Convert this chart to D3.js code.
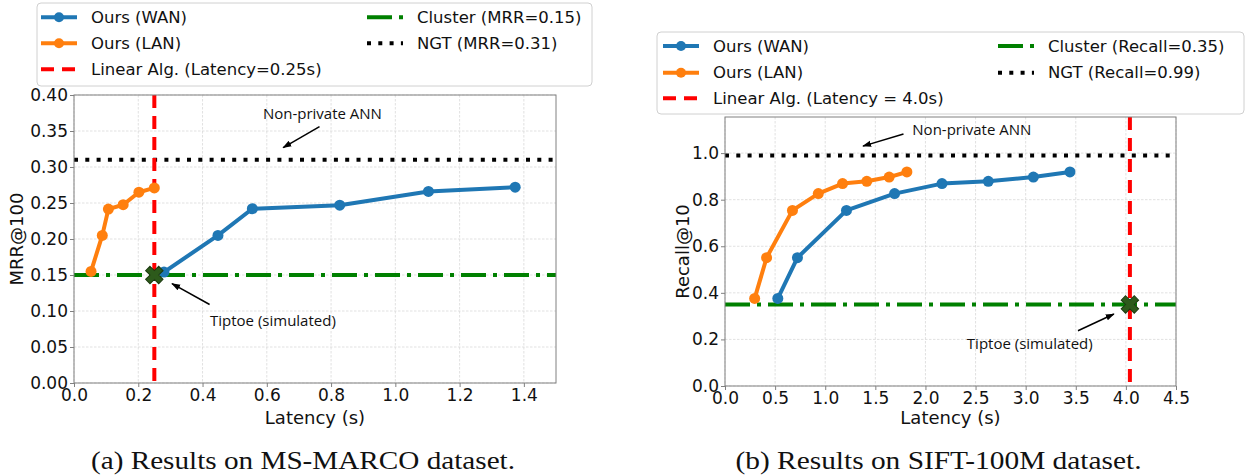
<!DOCTYPE html>
<html>
<head>
<meta charset="utf-8">
<script src="https://cdn.jsdelivr.net/npm/d3@7"></script>
<style>
  body { margin: 0; background: #fff; }
  svg { display: block; }
</style>
</head>
<body>
<script>
// (a) MS-MARCO
const marcoLatencyWAN = [0.28, 0.448, 0.555, 0.827, 1.103, 1.373];
const marcoMrrWAN = [0.154, 0.205, 0.242, 0.247, 0.266, 0.272];
const marcoLatencyLAN = [0.053, 0.088, 0.107, 0.153, 0.202, 0.25];
const marcoMrrLAN = [0.155, 0.205, 0.2415, 0.2476, 0.265, 0.271];
const marcoXTicks = [0.0, 0.2, 0.4, 0.6, 0.8, 1.0, 1.2, 1.4];
const marcoYTicks = [0.00, 0.05, 0.10, 0.15, 0.20, 0.25, 0.30, 0.35, 0.40];
const marcoCluster = 0.15, marcoNGT = 0.31, marcoLinear = 0.25;
const marcoTiptoe = [0.25, 0.15];
const marcoLegend = ["Ours (WAN)", "Ours (LAN)", "Linear Alg. (Latency=0.25s)", "Cluster (MRR=0.15)", "NGT (MRR=0.31)"];

// (b) SIFT-100M
const siftLatencyWAN = [0.527, 0.723, 1.212, 1.692, 2.165, 2.627, 3.077, 3.442];
const siftRecallWAN = [0.376, 0.551, 0.754, 0.826, 0.869, 0.879, 0.897, 0.919];
const siftLatencyLAN = [0.296, 0.415, 0.673, 0.931, 1.173, 1.415, 1.638, 1.815];
const siftRecallLAN = [0.376, 0.551, 0.754, 0.826, 0.869, 0.879, 0.897, 0.919];
const siftXTicks = [0.0, 0.5, 1.0, 1.5, 2.0, 2.5, 3.0, 3.5, 4.0, 4.5];
const siftYTicks = [0.0, 0.2, 0.4, 0.6, 0.8, 1.0];
const siftCluster = 0.35, siftNGT = 0.99, siftLinear = 4.04;
const siftTiptoe = [4.04, 0.35];
const siftLegend = ["Ours (WAN)", "Ours (LAN)", "Linear Alg. (Latency = 4.0s)", "Cluster (Recall=0.35)", "NGT (Recall=0.99)"];

const captions = ["(a) Results on MS-MARCO dataset.", "(b) Results on SIFT-100M dataset."];

const BLUE = "#1f77b4", ORANGE = "#ff7f0e", RED = "#ff0000", GREEN = "#008000";
const SANS = "'DejaVu Sans', sans-serif";
const NOTE = "'Open Sans', 'Noto Sans', sans-serif";

const svg = d3.select("body").append("svg")
    .attr("width", 1245)
    .attr("height", 475);

svg.append("defs").append("marker")
    .attr("id", "arrow")
    .attr("viewBox", "0 0 10 10")
    .attr("refX", 9).attr("refY", 5)
    .attr("markerWidth", 6).attr("markerHeight", 6)
    .attr("orient", "auto")
    .append("path")
    .attr("d", "M0,1.5 L10,5 L0,8.5 z")
    .attr("fill", "#000");

const panels = [
    {
        left: 74, right: 556, top: 95, bottom: 383,
        xDomain: [0, 1.5], yDomain: [0, 0.40],
        xTicks: marcoXTicks, yTicks: marcoYTicks, xFmt: ".1f", yFmt: ".2f",
        ylabel: "MRR@100", ylabelX: 16,
        wan: [marcoLatencyWAN, marcoMrrWAN], lan: [marcoLatencyLAN, marcoMrrLAN],
        cluster: marcoCluster, ngt: marcoNGT, linear: marcoLinear, tiptoe: marcoTiptoe,
        notes: [
            { text: "Non-private ANN", tx: 0.773, ty: 0.375, from: [0.764, 0.356], to: [0.651, 0.327] },
            { text: "Tiptoe (simulated)", tx: 0.619, ty: 0.088, from: [0.422, 0.109], to: [0.305, 0.138] }
        ],
        legend: marcoLegend,
        legendBox: { x: 37, y: 3, w: 555, h: 83 },
        legendRows: [17.3, 43.3, 69.3], legendCols: [41, 367],
        caption: captions[0], captionW: 424
    },
    {
        left: 725, right: 1176, top: 117, bottom: 386,
        xDomain: [0, 4.5], yDomain: [0, 1.155],
        xTicks: siftXTicks, yTicks: siftYTicks, xFmt: ".1f", yFmt: ".1f",
        ylabel: "Recall@10", ylabelX: 682,
        wan: [siftLatencyWAN, siftRecallWAN], lan: [siftLatencyLAN, siftRecallLAN],
        cluster: siftCluster, ngt: siftNGT, linear: siftLinear, tiptoe: siftTiptoe,
        notes: [
            { text: "Non-private ANN", tx: 2.463, ty: 1.102, from: [1.781, 1.082], to: [1.377, 1.030] },
            { text: "Tiptoe (simulated)", tx: 3.041, ty: 0.185, from: [3.522, 0.237], to: [3.88, 0.309] }
        ],
        legend: siftLegend,
        legendBox: { x: 657, y: 32, w: 587, h: 82 },
        legendRows: [46, 72.7, 98.3], legendCols: [663, 998],
        caption: captions[1], captionW: 406
    }
];

function drawHandle(g, kind, x0, yc) {
    const len = 36;
    const line = g.append("line")
        .attr("x1", x0).attr("x2", x0 + len)
        .attr("y1", yc).attr("y2", yc)
        .attr("stroke-width", 4);
    if (kind === 0 || kind === 1) {
        const c = kind === 0 ? BLUE : ORANGE;
        line.attr("stroke", c);
        g.append("circle").attr("cx", x0 + len / 2).attr("cy", yc).attr("r", 5).attr("fill", c);
    } else if (kind === 2) {
        line.attr("stroke", RED).attr("stroke-dasharray", "13,8");
    } else if (kind === 3) {
        line.attr("stroke", GREEN).attr("stroke-dasharray", "25,7,4,7");
    } else {
        line.attr("stroke", "#000").attr("stroke-dasharray", "4,7.3");
    }
}

panels.forEach(function(p) {
    const x = d3.scaleLinear().domain(p.xDomain).range([p.left, p.right]);
    const y = d3.scaleLinear().domain(p.yDomain).range([p.bottom, p.top]);
    const g = svg.append("g");

    // grid
    g.selectAll(".gx").data(p.xTicks).enter().append("line")
        .attr("x1", d => x(d)).attr("x2", d => x(d))
        .attr("y1", p.top).attr("y2", p.bottom)
        .attr("stroke", "#d9d9d9").attr("stroke-width", 0.8)
        .attr("stroke-dasharray", "2.5,1.5");
    g.selectAll(".gy").data(p.yTicks).enter().append("line")
        .attr("x1", p.left).attr("x2", p.right)
        .attr("y1", d => y(d)).attr("y2", d => y(d))
        .attr("stroke", "#d9d9d9").attr("stroke-width", 0.8)
        .attr("stroke-dasharray", "2.5,1.5");

    // reference lines
    g.append("line")
        .attr("x1", x(p.xDomain[0])).attr("x2", x(p.xDomain[1]))
        .attr("y1", y(p.cluster)).attr("y2", y(p.cluster))
        .attr("stroke", GREEN).attr("stroke-width", 4)
        .attr("stroke-dasharray", "25,7,4,7");
    g.append("line")
        .attr("x1", x(p.xDomain[0])).attr("x2", x(p.xDomain[1]))
        .attr("y1", y(p.ngt)).attr("y2", y(p.ngt))
        .attr("stroke", "#000").attr("stroke-width", 4)
        .attr("stroke-dasharray", "4,7.3");
    g.append("line")
        .attr("x1", x(p.linear)).attr("x2", x(p.linear))
        .attr("y1", y(p.yDomain[1])).attr("y2", y(p.yDomain[0]))
        .attr("stroke", RED).attr("stroke-width", 4)
        .attr("stroke-dasharray", "13,8");

    // series
    const line = d3.line().x(d => x(d[0])).y(d => y(d[1]));
    [[p.wan, BLUE], [p.lan, ORANGE]].forEach(function(s) {
        const pts = s[0][0].map((v, i) => [v, s[0][1][i]]);
        g.append("path").datum(pts)
            .attr("d", line)
            .attr("fill", "none")
            .attr("stroke", s[1])
            .attr("stroke-width", 4)
            .attr("stroke-linejoin", "round");
        g.selectAll(null).data(pts).enter().append("circle")
            .attr("cx", d => x(d[0])).attr("cy", d => y(d[1]))
            .attr("r", 5.5).attr("fill", s[1]);
    });

    // tiptoe marker
    g.append("path")
        .attr("d", d3.symbol(d3.symbolCross).size(190)())
        .attr("transform", `translate(${x(p.tiptoe[0])},${y(p.tiptoe[1])}) rotate(45)`)
        .attr("fill", "#2d5a1b")
        .attr("stroke", "#1c3b10")
        .attr("stroke-width", 1);

    // frame
    g.append("rect")
        .attr("x", p.left).attr("y", p.top)
        .attr("width", p.right - p.left).attr("height", p.bottom - p.top)
        .attr("fill", "none").attr("stroke", "#808080").attr("stroke-width", 1);

    // axes
    const xAxis = g.append("g")
        .attr("transform", `translate(0,${p.bottom})`)
        .call(d3.axisBottom(x).tickValues(p.xTicks).tickFormat(d3.format(p.xFmt)).tickSize(4).tickSizeOuter(0).tickPadding(2));
    const yAxis = g.append("g")
        .attr("transform", `translate(${p.left},0)`)
        .call(d3.axisLeft(y).tickValues(p.yTicks).tickFormat(d3.format(p.yFmt)).tickSize(4).tickSizeOuter(0).tickPadding(2));
    [xAxis, yAxis].forEach(function(a) {
        a.select(".domain").remove();
        a.selectAll("line").attr("stroke", "#808080");
        a.selectAll("text")
            .attr("font-family", SANS)
            .attr("font-size", "17px")
            .attr("fill", "#111");
    });

    // axis labels
    g.append("text")
        .attr("x", (p.left + p.right) / 2).attr("y", 417)
        .attr("text-anchor", "middle").attr("dominant-baseline", "central")
        .attr("font-family", SANS).attr("font-size", "18px").attr("fill", "#111")
        .text("Latency (s)");
    g.append("text")
        .attr("transform", `translate(${p.ylabelX},${(p.top + p.bottom) / 2}) rotate(-90)`)
        .attr("text-anchor", "middle").attr("dominant-baseline", "central")
        .attr("font-family", SANS).attr("font-size", "18px").attr("fill", "#111")
        .text(p.ylabel);

    // annotations
    p.notes.forEach(function(n) {
        g.append("line")
            .attr("x1", x(n.from[0])).attr("y1", y(n.from[1]))
            .attr("x2", x(n.to[0])).attr("y2", y(n.to[1]))
            .attr("stroke", "#000").attr("stroke-width", 1.5)
            .attr("marker-end", "url(#arrow)");
        g.append("text")
            .attr("x", x(n.tx)).attr("y", y(n.ty))
            .attr("text-anchor", "middle").attr("dominant-baseline", "central")
            .attr("font-family", NOTE).attr("font-size", "15px").attr("fill", "#111")
            .text(n.text);
    });

    // legend
    const lg = svg.append("g");
    lg.append("rect")
        .attr("x", p.legendBox.x).attr("y", p.legendBox.y)
        .attr("width", p.legendBox.w).attr("height", p.legendBox.h)
        .attr("rx", 4)
        .attr("fill", "#fff").attr("fill-opacity", 0.8)
        .attr("stroke", "#d0d0d0").attr("stroke-width", 1);
    p.legend.forEach(function(label, i) {
        const col = i < 3 ? 0 : 1;
        const row = i < 3 ? i : i - 3;
        const hx = p.legendCols[col];
        const yc = p.legendRows[row];
        drawHandle(lg, i, hx, yc);
        lg.append("text")
            .attr("x", hx + 50).attr("y", yc)
            .attr("dominant-baseline", "central")
            .attr("font-family", SANS).attr("font-size", "16.5px").attr("fill", "#111")
            .text(label);
    });

    // caption
    svg.append("text")
        .attr("x", (p.left + p.right) / 2 - 12).attr("y", 460)
        .attr("text-anchor", "middle").attr("dominant-baseline", "central")
        .attr("font-family", "'Liberation Serif', serif").attr("font-size", "25px")
        .attr("fill", "#111")
        .attr("textLength", p.captionW).attr("lengthAdjust", "spacingAndGlyphs")
        .text(p.caption);
});
</script>
</body>
</html>
